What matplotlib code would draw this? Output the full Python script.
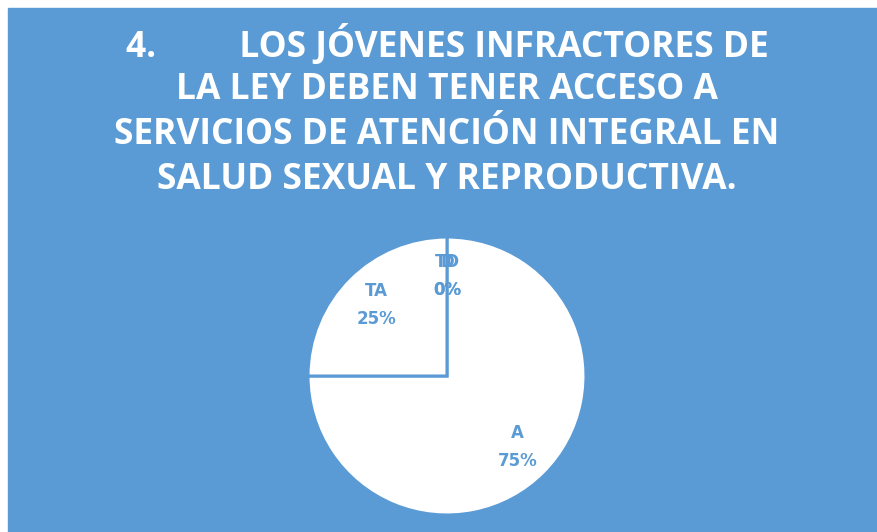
import matplotlib.pyplot as plt
from matplotlib.patches import Rectangle

# survey answer shares (clockwise from 12 o'clock)
categories = ["TD", "D", "A", "TA"]
shares = [0, 0, 75, 25]

title_lines = [
    "4.         LOS JÓVENES INFRACTORES DE",
    "LA LEY DEBEN TENER ACCESO A",
    "SERVICIOS DE ATENCIÓN INTEGRAL EN",
    "SALUD SEXUAL Y REPRODUCTIVA.",
]

BLUE = "#5B9BD5"
W, H = 878, 532

fig = plt.figure(figsize=(W / 100, H / 100), dpi=100)
fig.patch.set_facecolor("white")
fig.patches.append(Rectangle((8 / W, 0), 1 - 8 / W, 1 - 8 / H,
                             transform=fig.transFigure, color=BLUE, zorder=-5))

# title, one line at a time
for i, line in enumerate(title_lines):
    y = 45 + 45 * i
    fig.text(447 / W, 1 - y / H, line, ha="center", va="center",
             color="white", fontsize=25.5, fontweight="bold", family="Open Sans")

# pie
cx, cy, r = 447, 376, 139
ax = fig.add_axes([(cx - r) / W, (H - cy - r) / H, 2 * r / W, 2 * r / H])
labels = [f"{c}\n{v}%" for c, v in zip(categories, shares)]
wedges, texts = ax.pie(shares, labels=labels, startangle=90, counterclock=False,
                       colors=["white"] * len(shares), labeldistance=0.72,
                       wedgeprops=dict(edgecolor=BLUE, linewidth=2.2),
                       textprops=dict(color=BLUE, fontsize=12, fontweight="bold",
                                      ha="center", va="center", linespacing=1.75))
ax.set_xlim(-1, 1)
ax.set_ylim(-1, 1)
ax.set_aspect("equal")
ax.axis("off")

fig.savefig("out.png", dpi=100)
